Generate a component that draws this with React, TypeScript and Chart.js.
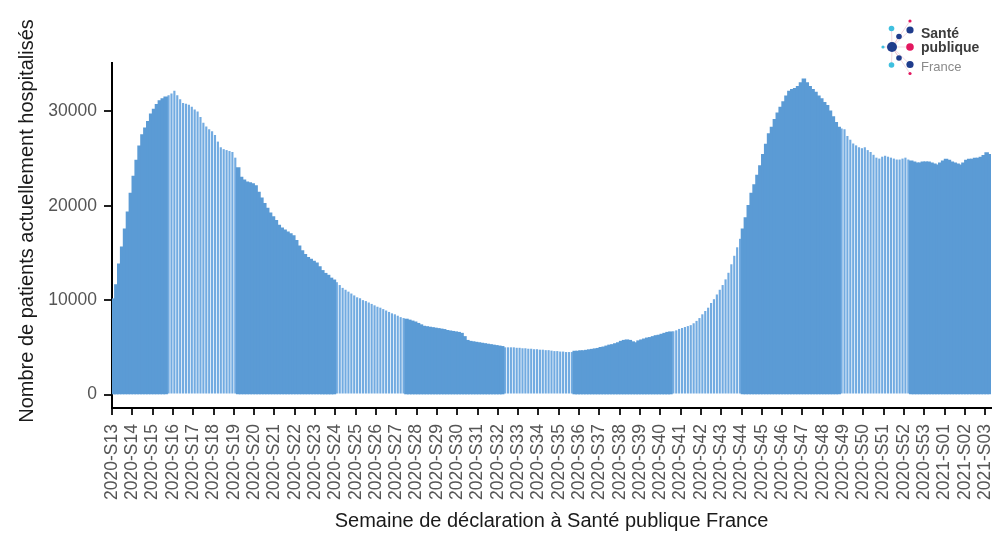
import React, { useEffect, useRef } from "react";
import { Chart, registerables } from "chart.js";

Chart.register(...registerables);

const weekLabels = [
  "2020-S13", "2020-S14", "2020-S15", "2020-S16", "2020-S17", "2020-S18", "2020-S19",
  "2020-S20", "2020-S21", "2020-S22", "2020-S23", "2020-S24", "2020-S25", "2020-S26",
  "2020-S27", "2020-S28", "2020-S29", "2020-S30", "2020-S31", "2020-S32", "2020-S33",
  "2020-S34", "2020-S35", "2020-S36", "2020-S37", "2020-S38", "2020-S39", "2020-S40",
  "2020-S41", "2020-S42", "2020-S43", "2020-S44", "2020-S45", "2020-S46", "2020-S47",
  "2020-S48", "2020-S49", "2020-S50", "2020-S51", "2020-S52", "2020-S53", "2021-S01",
  "2021-S02", "2021-S03",
];

// Daily number of patients currently hospitalised (one value per day, from the first bar)
const hospitalized = [
  10100, 11600, 13800, 15600, 17500, 19300, 21300,
  23100, 24800, 26300, 27500, 28200, 28900, 29700,
  30200, 30700, 31100, 31300, 31500, 31700, 31900,
  32200, 31700, 31300, 30900, 30800, 30700, 30500,
  30200, 30000, 29400, 28800, 28400, 28100, 27900,
  27500, 26800, 26200, 26000, 25900, 25800, 25700,
  25100, 24000, 23000, 22700, 22500, 22400, 22300,
  22100, 21400, 20800, 20200, 19700, 19200, 18800,
  18400, 17900, 17600, 17400, 17200, 17000, 16800,
  16300, 15700, 15200, 14800, 14500, 14300, 14100,
  13900, 13500, 13100, 12800, 12600, 12300, 12100,
  11900, 11600, 11300, 11100, 10900, 10700, 10500,
  10300, 10200, 10000, 9900, 9750, 9600, 9450,
  9300, 9200, 9050, 8900, 8750, 8600, 8500,
  8350, 8200, 8100, 7950, 7850, 7750, 7650,
  7500, 7350, 7200, 7150, 7100, 7050, 7000,
  6950, 6900, 6850, 6750, 6700, 6650, 6600,
  6550, 6450, 6100, 5700, 5600, 5550, 5500,
  5450, 5400, 5350, 5300, 5250, 5200, 5150,
  5100, 5050, 5000, 5000, 5000, 5000, 4950,
  4950, 4900, 4900, 4850, 4850, 4800, 4800,
  4750, 4750, 4700, 4700, 4650, 4600, 4600,
  4550, 4550, 4500, 4500, 4500, 4550, 4550,
  4600, 4600, 4650, 4700, 4750, 4800, 4850,
  4950, 5000, 5100, 5200, 5250, 5350, 5450,
  5600, 5700, 5750, 5700, 5550, 5450, 5650,
  5750, 5850, 5950, 6000, 6100, 6200, 6250,
  6350, 6450, 6550, 6600, 6700, 6800, 6950,
  7050, 7150, 7250, 7350, 7550, 7800, 8100,
  8500, 8850, 9200, 9700, 10100, 10600, 11100,
  11600, 12200, 12900, 13800, 14700, 15600, 16500,
  17500, 18700, 20000, 21300, 22200, 23200, 24200,
  25400, 26500, 27600, 28300, 29100, 29800, 30400,
  31000, 31600, 32100, 32300, 32400, 32600, 33000,
  33400, 33000, 32600, 32300, 32000, 31600, 31300,
  30900, 30600, 30000, 29400, 28800, 28300, 28200,
  28100, 27400, 27000, 26600, 26400, 26200, 26100,
  26200, 25900, 25700, 25400, 25100, 25000, 25200,
  25300, 25200, 25100, 25000, 24900, 24900, 25000,
  25100, 24900, 24700, 24600, 24500, 24500, 24600,
  24600, 24600, 24500, 24400, 24300, 24500, 24700,
  24900, 24800, 24600, 24500, 24400, 24300, 24500,
  24800, 24900, 24900, 25000, 25000, 25100, 25300,
  25600, 25400,
];

const yTickValues = [0, 10000, 20000, 30000];
const yTitle = "Nombre de patients actuellement hospitalisés";
const xTitle = "Semaine de déclaration à Santé publique France";
const logoWords = ["Santé", "publique", "France"];

const FONT = '"Liberation Sans", Arial, Helvetica, sans-serif';
const SOLID = "#5b9bd5";
const LIGHT = "#72abe1";

// rendering pattern of the source (moiré bands)
const isBand = (i: number) => (((i - 19) % 58) + 58) % 58 < 24;

const overlayPlugin = {
  id: "overlay",
  afterDraw(chart: any) {
    const ctx = chart.ctx;
    ctx.save();
    // y axis title
    ctx.translate(27.5, 221);
    ctx.rotate(-Math.PI / 2);
    ctx.font = `20px ${FONT}`;
    ctx.fillStyle = "#1a1a1a";
    ctx.textAlign = "center";
    ctx.textBaseline = "middle";
    ctx.fillText(yTitle, 0, 0);
    ctx.restore();

    // logo
    ctx.save();
    const navy = "#1f3c8c";
    const cyan = "#3fc0df";
    const pink = "#e3175f";
    const cx = 892, cy = 47;
    const dots: [number, number, number, string][] = [
      [910, 21, 1.6, pink],
      [891.5, 28.5, 2.8, cyan],
      [910, 30, 3.6, navy],
      [899, 36.5, 2.8, navy],
      [883, 47, 1.6, cyan],
      [910, 47, 3.8, pink],
      [899, 58, 2.8, navy],
      [891.5, 65, 2.8, cyan],
      [910, 64.5, 3.6, navy],
      [910, 73.5, 1.6, pink],
    ];
    ctx.strokeStyle = "rgba(230,170,190,0.6)";
    ctx.lineWidth = 0.8;
    for (const d of dots) {
      ctx.beginPath();
      ctx.moveTo(cx, cy);
      ctx.lineTo(d[0], d[1]);
      ctx.stroke();
    }
    for (const d of dots) {
      ctx.beginPath();
      ctx.fillStyle = d[3];
      ctx.arc(d[0], d[1], d[2], 0, Math.PI * 2);
      ctx.fill();
    }
    ctx.beginPath();
    ctx.fillStyle = navy;
    ctx.arc(cx, cy, 5, 0, Math.PI * 2);
    ctx.fill();

    ctx.textAlign = "left";
    ctx.textBaseline = "alphabetic";
    ctx.fillStyle = "#3c3c3c";
    ctx.font = `bold 14px ${FONT}`;
    ctx.fillText(logoWords[0], 921, 38);
    ctx.fillText(logoWords[1], 921, 52);
    ctx.fillStyle = "#8a8a8a";
    ctx.font = `13px ${FONT}`;
    ctx.fillText(logoWords[2], 921, 71);
    ctx.restore();
  },
};

export default function App() {
  const canvasRef = useRef<HTMLCanvasElement | null>(null);

  useEffect(() => {
    document.body.style.margin = "0";
    const canvas = canvasRef.current;
    if (!canvas) return;

    const solidData = hospitalized.map((v, i) => ({ x: i + 0.5, y: isBand(i) ? null : v }));
    const bandData = hospitalized.map((v, i) => ({ x: i + 0.5, y: isBand(i) ? v : null }));

    const chart = new Chart(canvas, {
      type: "bar",
      data: {
        datasets: [
          {
            label: "solid",
            data: solidData as any,
            backgroundColor: SOLID,
            borderWidth: 0,
            barPercentage: 1,
            categoryPercentage: 1,
            inflateAmount: 0.8,
            grouped: false,
          } as any,
          {
            label: "band",
            data: bandData as any,
            backgroundColor: LIGHT,
            borderWidth: 0,
            barPercentage: 0.74,
            categoryPercentage: 1,
            inflateAmount: 0,
            grouped: false,
          } as any,
        ],
      },
      options: {
        animation: false,
        responsive: false,
        devicePixelRatio: 1,
        layout: { padding: { left: 10, right: 9, top: 63, bottom: 0 } },
        plugins: {
          legend: { display: false },
          tooltip: { enabled: false },
          title: { display: false },
        },
        scales: {
          x: {
            type: "linear",
            offset: false,
            min: 0,
            max: 303,
            afterBuildTicks: (s: any) => {
              s.ticks = weekLabels.map((_, k) => ({ value: k * 7 }));
            },
            afterFit: (s: any) => {
              s.height = 145;
              s.paddingLeft = 0;
              s.paddingRight = 0;
            },
            ticks: {
              autoSkip: false,
              maxRotation: 90,
              minRotation: 90,
              padding: 9,
              color: "#555555",
              font: { family: FONT, size: 17.5 },
              callback: (v: any) => weekLabels[Math.round(Number(v) / 7)] ?? "",
            },
            grid: {
              offset: false,
              drawOnChartArea: false,
              drawTicks: true,
              tickLength: 7,
              color: "#222222",
              lineWidth: 2,
            },
            border: { display: true, color: "#000000", width: 2 },
            title: {
              display: true,
              text: xTitle,
              color: "#1a1a1a",
              font: { family: FONT, size: 20 },
              padding: { top: 0, bottom: 20 },
            },
          },
          y: {
            type: "linear",
            min: -1430,
            max: 35130,
            afterBuildTicks: (s: any) => {
              s.ticks = yTickValues.map((v) => ({ value: v }));
            },
            afterFit: (s: any) => {
              s.width = 102;
              s.paddingTop = 0;
              s.paddingBottom = 0;
            },
            ticks: {
              padding: 7,
              color: "#555555",
              font: { family: FONT, size: 17.5 },
              callback: (v: any) => String(v),
            },
            grid: {
              drawOnChartArea: false,
              drawTicks: true,
              tickLength: 8,
              color: "#222222",
              lineWidth: 2,
            },
            border: { display: true, color: "#000000", width: 2 },
            title: { display: false },
          },
        },
      } as any,
      plugins: [overlayPlugin],
    });

    return () => chart.destroy();
  }, []);

  return (
    <div style={{ position: "absolute", left: 0, top: 0, width: 1000, height: 553, background: "#fff" }}>
      <canvas ref={canvasRef} width={1000} height={553} style={{ display: "block" }} />
    </div>
  );
}
